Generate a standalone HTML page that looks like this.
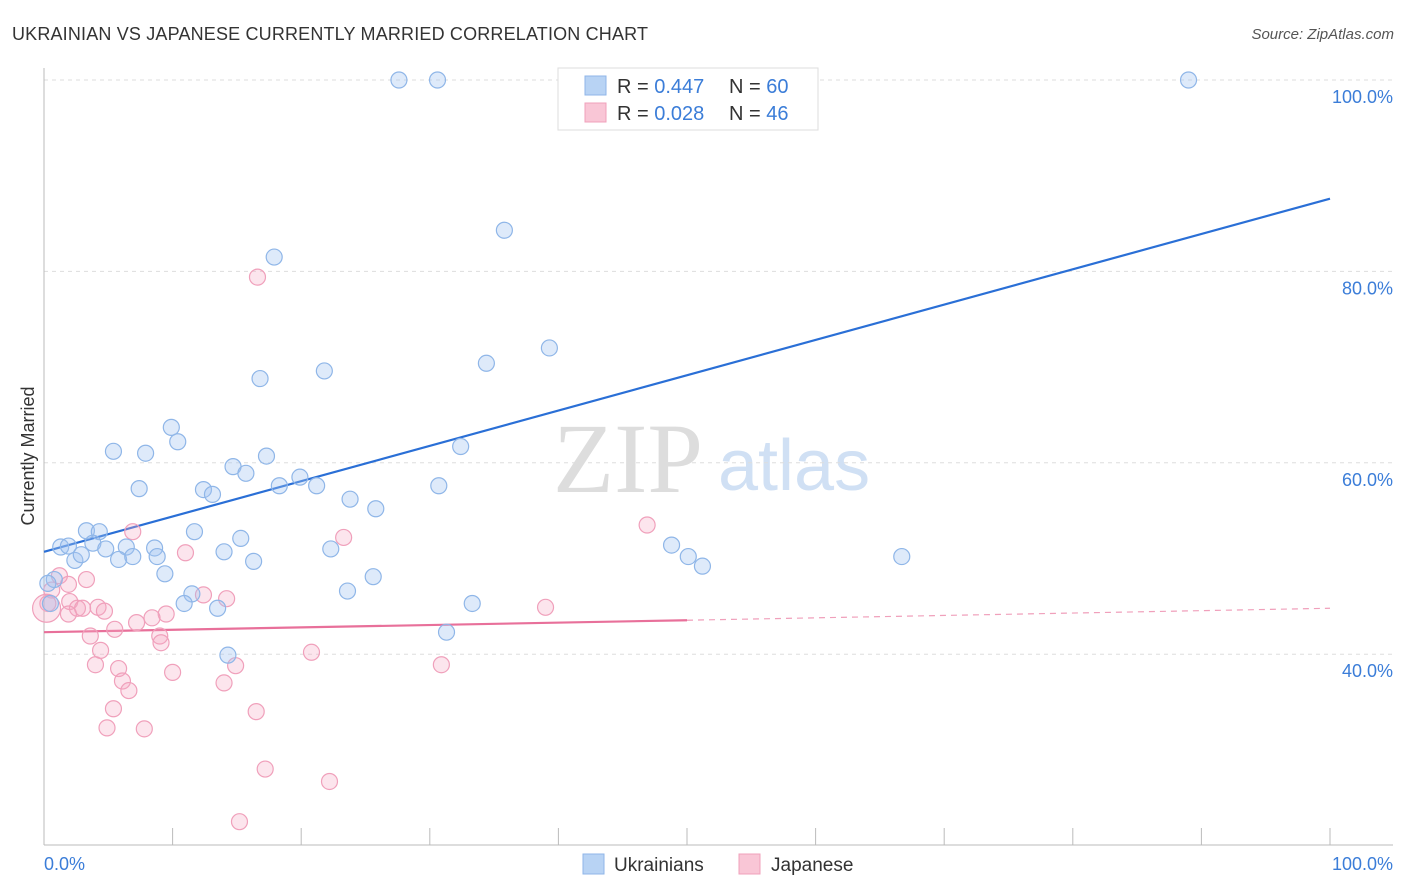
<!DOCTYPE html>
<html><head><meta charset="utf-8"><style>
body{margin:0;background:#fff;font-family:"Liberation Sans",sans-serif;}
#wrap{position:relative;width:1406px;height:892px;overflow:hidden;}
</style></head><body>
<div id="wrap">
<svg id="chart" width="1406" height="892" xmlns="http://www.w3.org/2000/svg">
<text x="12" y="40" font-size="18" fill="#333" textLength="636">UKRAINIAN VS JAPANESE CURRENTLY MARRIED CORRELATION CHART</text>
<text x="1394" y="39" font-size="15" fill="#555" font-style="italic" text-anchor="end">Source: ZipAtlas.com</text>
<text transform="translate(34,456) rotate(-90)" font-size="18" fill="#333" text-anchor="middle">Currently Married</text>
<text x="553" y="492" font-size="100" fill="#ddd" font-family="Liberation Serif,serif">ZIP</text>
<text x="718" y="490" font-size="72" fill="#d0e0f4">atlas</text>
<g id="grid"></g><g id="axes"></g><g id="lines"></g><g id="pts"></g>
<g>
<rect x="558" y="68" width="260" height="62" fill="#fff" stroke="#ddd"/>
<rect x="585" y="76" width="21" height="19" fill="#b8d3f4" stroke="#8fb6e8"/>
<rect x="585" y="103" width="21" height="19" fill="#f9c6d6" stroke="#f0a0bb"/>
<text x="617" y="93" font-size="20" fill="#333">R = <tspan fill="#3b7dd8">0.447</tspan></text>
<text x="729" y="93" font-size="20" fill="#333">N = <tspan fill="#3b7dd8">60</tspan></text>
<text x="617" y="120" font-size="20" fill="#333">R = <tspan fill="#3b7dd8">0.028</tspan></text>
<text x="729" y="120" font-size="20" fill="#333">N = <tspan fill="#3b7dd8">46</tspan></text>
</g>
<g>
<rect x="583" y="854" width="21" height="20" fill="#b8d3f4" stroke="#8fb6e8"/>
<text x="614" y="871" font-size="19" fill="#333">Ukrainians</text>
<rect x="739" y="854" width="21" height="20" fill="#f9c6d6" stroke="#f0a0bb"/>
<text x="771" y="871" font-size="19" fill="#333">Japanese</text>
</g>
</svg>
</div>
<script>
const blueX=[27.6,30.6,89.0,35.8,17.9,39.3,34.4,16.8,21.8,9.9,10.4,5.4,7.9,32.4,17.3,14.7,15.7,19.9,7.4,12.4,13.1,18.3,21.2,30.7,23.8,25.8,11.7,3.3,4.3,15.3,1.3,1.9,3.8,4.8,6.4,8.6,22.3,14.0,48.8,2.4,2.9,5.8,6.9,8.8,16.3,50.1,51.2,66.7,9.4,25.6,0.8,0.3,23.6,11.5,10.9,13.5,33.3,14.3,31.3,0.5];
const blueY=[100,100,100,84.3,81.5,72.0,70.4,68.8,69.6,63.7,62.2,61.2,61.0,61.7,60.7,59.6,58.9,58.5,57.3,57.2,56.7,57.6,57.6,57.6,56.2,55.2,52.8,52.9,52.8,52.1,51.2,51.3,51.6,51.0,51.2,51.1,51.0,50.7,51.4,49.8,50.4,49.9,50.2,50.2,49.7,50.2,49.2,50.2,48.4,48.1,47.8,47.4,46.6,46.3,45.3,44.8,45.3,39.9,42.3,45.3];
const pinkX=[16.6,46.9,6.9,23.3,11.0,1.2,3.3,1.9,0.6,12.4,14.2,0.3,2.0,4.2,4.7,2.6,3.0,39.0,9.5,8.4,1.9,7.2,5.5,3.6,9.0,9.1,4.4,20.8,4.0,14.9,5.8,10.0,30.9,6.1,14.0,6.6,5.4,16.5,4.9,7.8,17.2,22.2,15.2,0.2];
const pinkY=[79.4,53.5,52.8,52.2,50.6,48.2,47.8,47.3,46.7,46.2,45.8,45.3,45.5,44.9,44.5,44.8,44.8,44.9,44.2,43.8,44.2,43.3,42.6,41.9,41.9,41.2,40.4,40.2,38.9,38.8,38.5,38.1,38.9,37.2,37.0,36.2,34.3,34.0,32.3,32.2,28.0,26.7,22.5,44.8];
const yTicks=[40,60,80,100];
const xTickLabels=["0.0%","100.0%"];
const blueTrend=[50.7,87.6];
const pinkTrend=[42.3,44.8];
const pinkSolidEnd=50;
const NS="http://www.w3.org/2000/svg";
const X=v=>44+v*12.86, Y=v=>80+(100-v)*9.57;
function mk(t,a,p){const e=document.createElementNS(NS,t);for(const k in a)e.setAttribute(k,a[k]);p.appendChild(e);return e;}
const grid=document.getElementById('grid'),axes=document.getElementById('axes'),lines=document.getElementById('lines'),pts=document.getElementById('pts');
yTicks.forEach(v=>{
 const l=mk('line',{x1:44,x2:1393,y1:Y(v),y2:Y(v),stroke:'#ddd','stroke-dasharray':'4,4'},grid);
 
 
 const t=mk('text',{x:1393,y:Y(v)+23,'font-size':18,fill:'#3b7dd8','text-anchor':'end'},grid);
 t.textContent=v.toFixed(1)+'%';
 
 
});
const ya=mk('line',{x1:44,x2:44,y1:68,y2:845,stroke:'#bbb'},axes);


const xa=mk('line',{x1:44,x2:1393,y1:845,y2:845,stroke:'#bbb'},axes);


for(let i=0;i<=10;i++){
 const tk=mk('line',{x1:X(i*10),x2:X(i*10),y1:828,y2:845,stroke:'#bbb'},axes);
 
 
}
const xl0=mk('text',{x:44,y:870,'font-size':18,fill:'#3b7dd8'},axes);xl0.textContent=xTickLabels[0];


const xl1=mk('text',{x:1393,y:870,'font-size':18,fill:'#3b7dd8','text-anchor':'end'},axes);xl1.textContent=xTickLabels[1];


function dot(x,y,r,f,s,n){const c=mk('circle',{cx:X(x),cy:Y(y),r:r,fill:f,stroke:s,'stroke-width':1.2},pts);
 
 }
pinkX.forEach((x,i)=>dot(x,pinkY[i],i===pinkX.length-1?14:8,'rgba(246,170,195,0.3)','#f0a0bb','point-japanese'));
blueX.forEach((x,i)=>dot(x,blueY[i],8,'rgba(160,196,240,0.35)','#8fb6e8','point-ukrainian'));
const bl=mk('line',{x1:X(0),y1:Y(blueTrend[0]),x2:X(100),y2:Y(blueTrend[1]),stroke:'#2a6fd6','stroke-width':2.2},lines);


const pAt=x=>pinkTrend[0]+(pinkTrend[1]-pinkTrend[0])*x/100;
const pl=mk('line',{x1:X(0),y1:Y(pinkTrend[0]),x2:X(pinkSolidEnd),y2:Y(pAt(pinkSolidEnd)),stroke:'#e8709a','stroke-width':2.2},lines);


const pd=mk('line',{x1:X(pinkSolidEnd),y1:Y(pAt(pinkSolidEnd)),x2:X(100),y2:Y(pinkTrend[1]),stroke:'#f0a0bb','stroke-width':1.2,'stroke-dasharray':'6,5'},lines);


</script>
</body></html>
